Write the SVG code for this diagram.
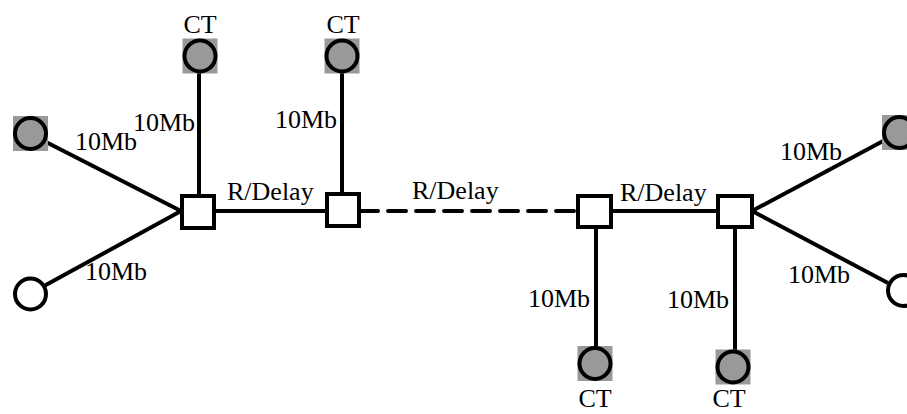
<svg xmlns="http://www.w3.org/2000/svg" width="907" height="414" viewBox="0 0 907 414">
<style>
.ln{stroke:#000;stroke-width:4;fill:none}
.dash{stroke:#000;stroke-width:4;fill:none;stroke-dasharray:18 10;stroke-linecap:round}
.sw{fill:#fff;stroke:#000;stroke-width:4}
.host{fill:#fff;stroke:#000;stroke-width:4}
.ct{fill:#999;stroke:#000;stroke-width:4}
.bg{fill:#999}
text{font-family:"Liberation Serif","Times New Roman",serif;font-size:26px;fill:#000}
</style>
<rect width="907" height="414" fill="#fff"/>
<g id="connectors">
<line class="ln" x1="199" y1="71" x2="199" y2="196"/>
<line class="ln" x1="342" y1="71" x2="342" y2="194"/>
<line class="ln" x1="44" y1="141" x2="181" y2="211"/>
<line class="ln" x1="44" y1="286" x2="181" y2="211"/>
<line class="ln" x1="214" y1="211" x2="327" y2="211"/>
<line class="dash" x1="360" y1="211" x2="577" y2="211"/>
<line class="ln" x1="612" y1="211" x2="718" y2="211"/>
<line class="ln" x1="596" y1="226" x2="596" y2="347"/>
<line class="ln" x1="735" y1="228" x2="735" y2="350"/>
<line class="ln" x1="752" y1="211" x2="885" y2="140"/>
<line class="ln" x1="752" y1="211" x2="888" y2="283"/>
</g>
<g id="ct1"><rect class="bg" x="182.5" y="38.5" width="35" height="35"/><circle class="ct" cx="200" cy="56" r="15.5"/><text x="200" y="33" text-anchor="middle">CT</text></g>
<g id="ct2"><rect class="bg" x="324.5" y="38.5" width="35" height="35"/><circle class="ct" cx="342" cy="56" r="15.5"/><text x="343" y="33" text-anchor="middle">CT</text></g>
<g id="hostL1"><rect class="bg" x="13" y="116" width="35" height="35"/><circle class="ct" cx="30.5" cy="133.5" r="15.5"/></g>
<g id="hostL2"><circle class="host" cx="30.5" cy="294" r="15.5"/></g>
<g id="sw1"><rect class="sw" x="182" y="196" width="32" height="32"/></g>
<g id="sw2"><rect class="sw" x="327" y="194" width="32" height="32"/></g>
<g id="sw3"><rect class="sw" x="578" y="196" width="33" height="31"/></g>
<g id="sw4"><rect class="sw" x="718" y="196" width="34" height="31"/></g>
<g id="ct3"><rect class="bg" x="577.5" y="346" width="35" height="35"/><circle class="ct" cx="595" cy="363.5" r="15.5"/><text x="595" y="407" text-anchor="middle">CT</text></g>
<g id="ct4"><rect class="bg" x="715.5" y="349.5" width="35" height="35"/><circle class="ct" cx="733" cy="367" r="15.5"/><text x="729" y="407" text-anchor="middle">CT</text></g>
<g id="hostR1"><rect class="bg" x="882" y="115" width="35" height="35"/><circle class="ct" cx="899.5" cy="132.5" r="15.5"/></g>
<g id="hostR2"><circle class="host" cx="903.5" cy="290.5" r="15.5"/></g>
<g id="labels">
<text x="195" y="131" text-anchor="end">10Mb</text>
<text x="75" y="150">10Mb</text>
<text x="85" y="280">10Mb</text>
<text x="227" y="200">R/Delay</text>
<text x="337" y="128" text-anchor="end">10Mb</text>
<text x="412" y="199">R/Delay</text>
<text x="620" y="201">R/Delay</text>
<text x="780" y="160">10Mb</text>
<text x="788" y="283">10Mb</text>
<text x="590" y="307" text-anchor="end">10Mb</text>
<text x="729" y="308" text-anchor="end">10Mb</text>
</g>
</svg>
